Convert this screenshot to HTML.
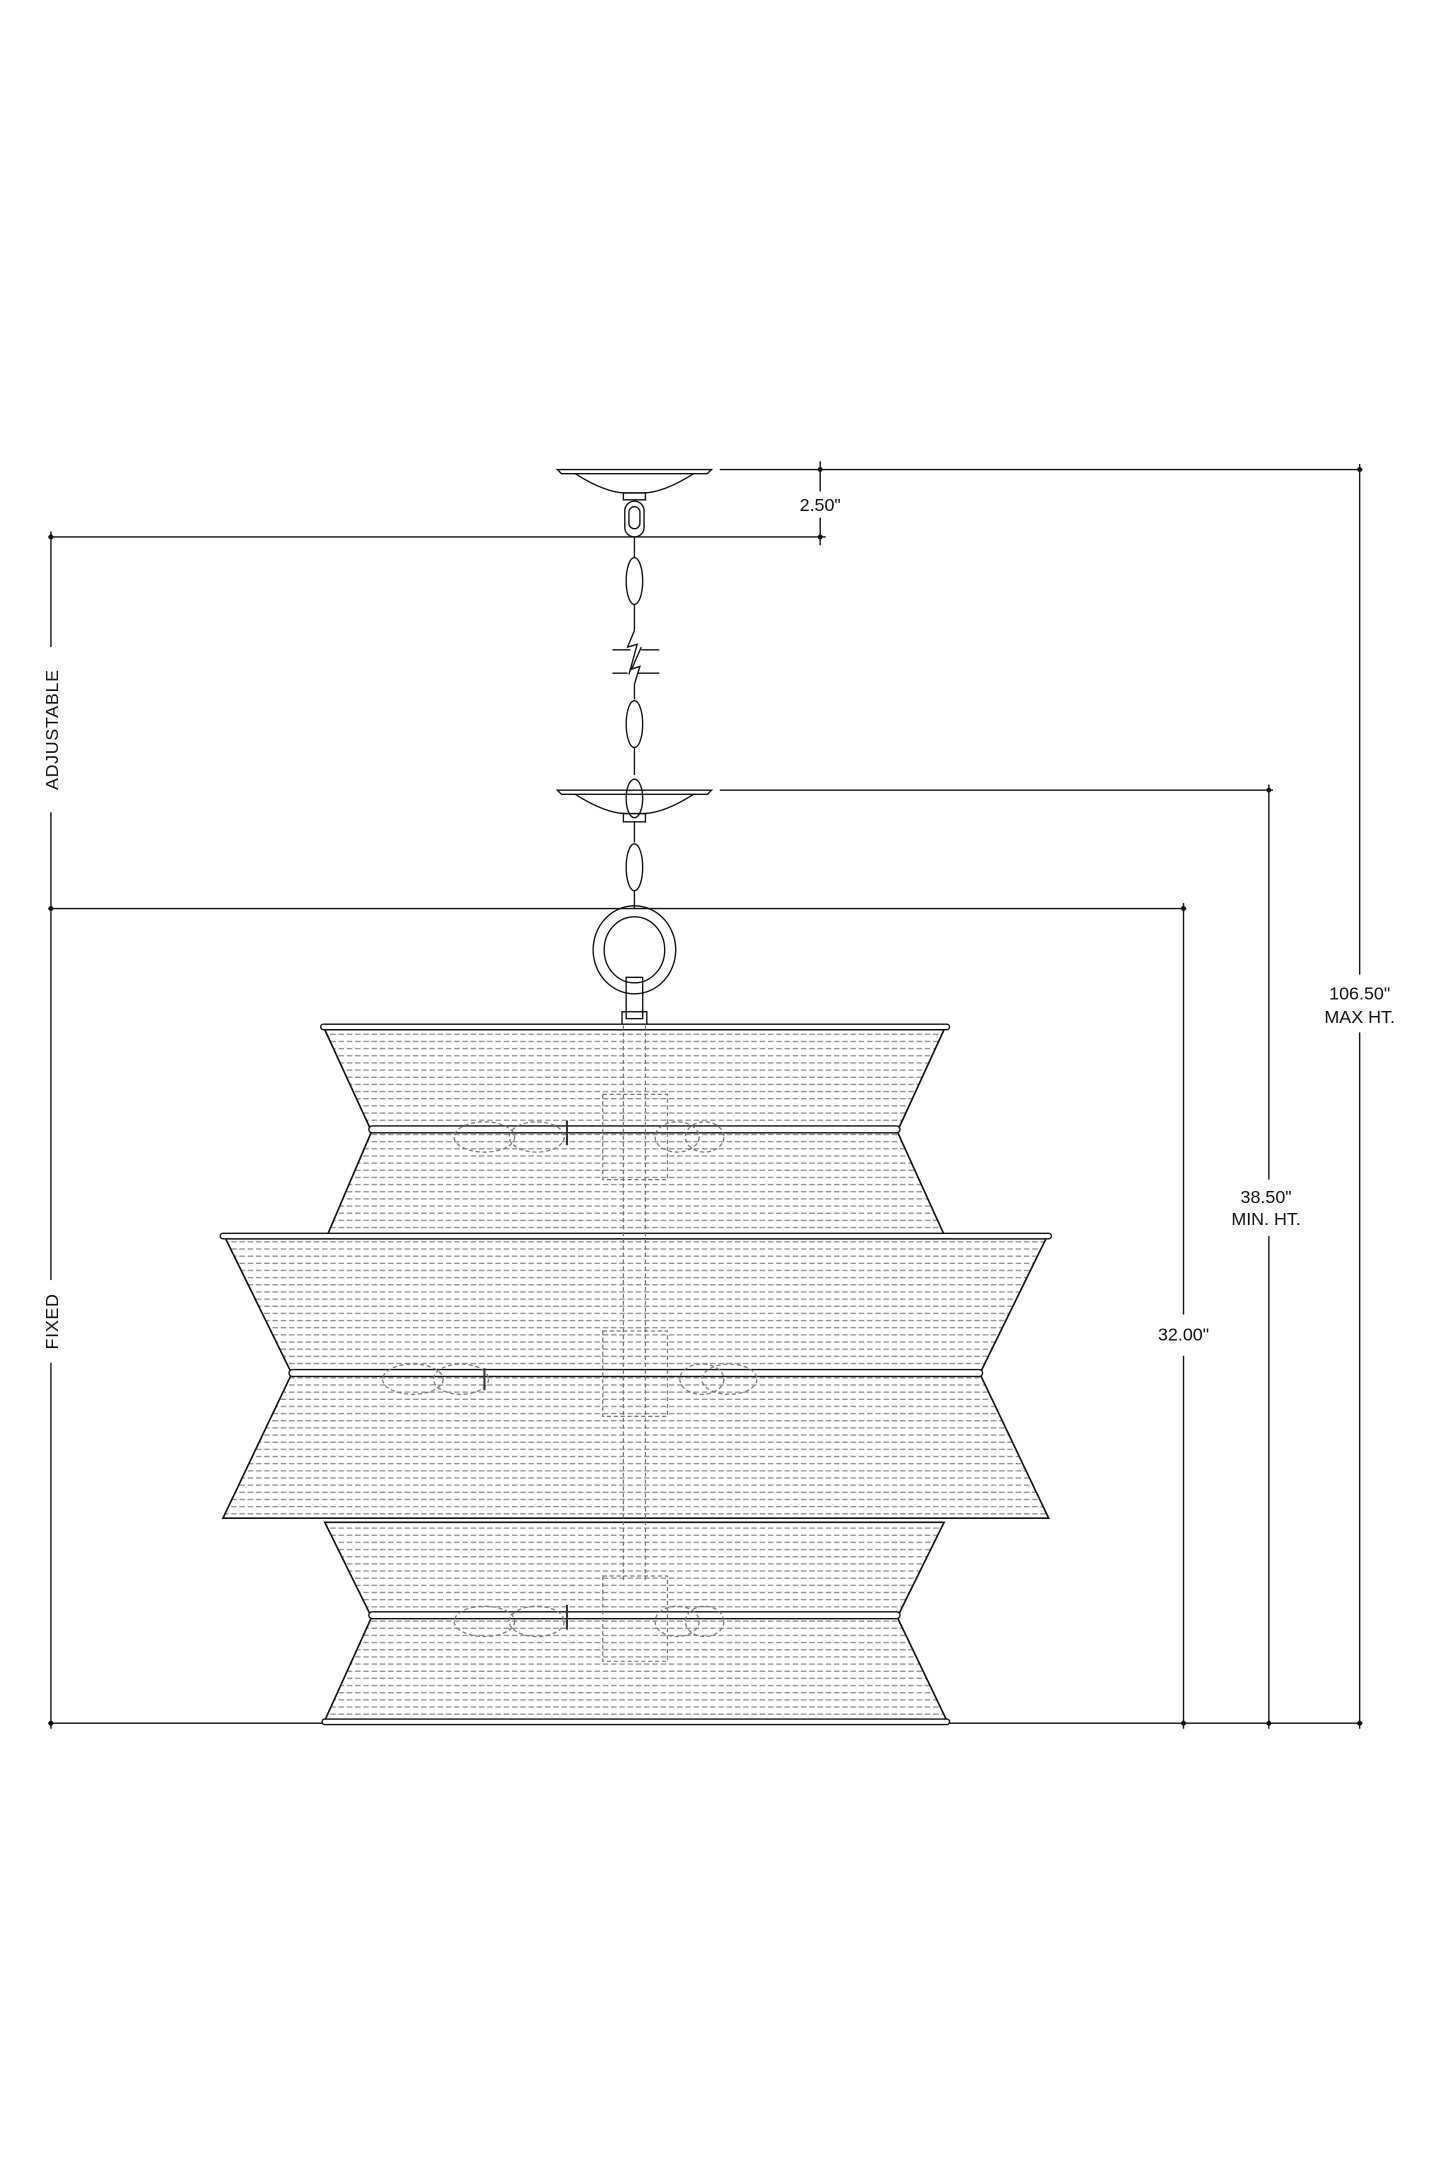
<!DOCTYPE html>
<html><head><meta charset="utf-8"><style>
html,body{margin:0;padding:0;background:#fff;}
svg{display:block;}
text{font-family:"Liberation Sans",sans-serif;fill:#111;}
</style></head><body>
<svg width="1445" height="2168" viewBox="0 0 1050 1575" xmlns="http://www.w3.org/2000/svg">
<defs>
<pattern id="mesh" x="0" y="0" width="6" height="5.2" patternUnits="userSpaceOnUse">
<line x1="0" y1="2.6" x2="4" y2="2.6" stroke="#8a8a8a" stroke-width="0.9"/>
</pattern>
</defs>
<g stroke="#111" fill="none" stroke-width="1">
<!-- dimension lines -->
<line x1="523" y1="341" x2="990" y2="341"/>
<line x1="596" y1="335" x2="596" y2="357"/>
<line x1="596" y1="376" x2="596" y2="396"/>
<line x1="35" y1="390" x2="600" y2="390"/>
<line x1="37" y1="386" x2="37" y2="470"/>
<line x1="37" y1="590" x2="37" y2="930"/>
<line x1="37" y1="990" x2="37" y2="1256"/>
<line x1="523" y1="574" x2="925" y2="574"/>
<line x1="922" y1="570" x2="922" y2="857"/>
<line x1="922" y1="898" x2="922" y2="1256"/>
<line x1="35" y1="660" x2="862" y2="660"/>
<line x1="860" y1="656" x2="860" y2="955"/>
<line x1="860" y1="985" x2="860" y2="1256"/>
<line x1="988" y1="337" x2="988" y2="708"/>
<line x1="988" y1="750" x2="988" y2="1256"/>
<line x1="35" y1="1252" x2="234" y2="1252"/>
<line x1="690" y1="1252" x2="990" y2="1252"/>
</g>
<g fill="#111">
<circle cx="596" cy="341" r="1.8"/><circle cx="596" cy="390" r="1.8"/>
<circle cx="988" cy="341" r="1.8"/><circle cx="37" cy="390" r="1.8"/>
<circle cx="922" cy="574" r="1.8"/><circle cx="37" cy="660" r="1.8"/>
<circle cx="860" cy="660" r="1.8"/><circle cx="37" cy="1252" r="1.8"/>
<circle cx="860" cy="1252" r="1.8"/><circle cx="922" cy="1252" r="1.8"/><circle cx="988" cy="1252" r="1.8"/>
</g>
<text x="596" y="371" font-size="13" text-anchor="middle">2.50"</text>
<text x="988" y="726" font-size="13" text-anchor="middle">106.50"</text>
<text x="988" y="743" font-size="13" text-anchor="middle">MAX HT.</text>
<text x="920" y="874" font-size="13" text-anchor="middle">38.50"</text>
<text x="920" y="890" font-size="13" text-anchor="middle">MIN. HT.</text>
<text x="860" y="974" font-size="13" text-anchor="middle">32.00"</text>
<text transform="translate(42,530) rotate(-90)" font-size="13" text-anchor="middle" letter-spacing="0.5">ADJUSTABLE</text>
<text transform="translate(42,960) rotate(-90)" font-size="13" text-anchor="middle" letter-spacing="0.5">FIXED</text>

<!-- canopies -->
<g stroke="#111" fill="none" stroke-width="1">
<path d="M405 341 L517 341 L514 344 L408 344 Z"/>
<path d="M418 344 Q440 358 455 358 L467 358 Q482 358 504 344"/>
<rect x="453" y="358" width="16" height="5"/>
<path d="M405 574 L517 574 L514 577 L408 577 Z"/>
<path d="M418 577 Q440 591 455 591 L467 591 Q482 591 504 577"/>
<rect x="453" y="591" width="16" height="6"/>
<!-- chain -->
<rect x="454" y="364" width="14" height="26" rx="7"/>
<rect x="457" y="368" width="8" height="16" rx="4"/>
<ellipse cx="461" cy="422" rx="6" ry="17"/>
<line x1="461" y1="390" x2="461" y2="405"/>
<line x1="461" y1="439" x2="461" y2="458"/>
<path d="M461 458 L456 470 L463 468 L457 490 M445 472 L458 472 M466 472 L479 472 M445 489 L456 489 M463 489 L479 489 M466 470 L459 486 L465 484 L461 497"/>
<line x1="461" y1="497" x2="461" y2="508"/>
<ellipse cx="461" cy="526" rx="6" ry="17"/>
<line x1="461" y1="543" x2="461" y2="563"/>
<ellipse cx="461" cy="580" rx="6" ry="14"/>
<line x1="461" y1="597" x2="461" y2="612"/>
<ellipse cx="461" cy="630" rx="6" ry="17"/>
<line x1="461" y1="647" x2="461" y2="660"/>
<ellipse cx="461" cy="690" rx="30" ry="32"/>
<ellipse cx="461" cy="690" rx="22" ry="24"/>
<rect x="455" y="710" width="12" height="30"/>
<rect x="452" y="735" width="18" height="10"/>
</g>

<!-- shades -->
<g stroke="#111" stroke-width="1.2" fill="url(#mesh)">
<path d="M236 748 L686 748 L652 822 L686 897 L238 897 L270 822 Z"/>
<path d="M164 900 L760 900 L712 998 L762 1103 L162 1103 L212 998 Z"/>
<path d="M236 1106 L686 1106 L652 1175 L688 1250 L236 1250 L270 1175 Z"/>
</g>
<g stroke="#111" stroke-width="1" fill="#fff">
<rect x="233" y="744" width="457" height="4" rx="2"/>
<rect x="268" y="818" width="386" height="5" rx="2.5"/>
<rect x="160" y="896" width="604" height="4" rx="2"/>
<rect x="210" y="995" width="504" height="5" rx="2.5"/>
<rect x="268" y="1171" width="386" height="5" rx="2.5"/>
<rect x="234" y="1249" width="456" height="4" rx="2"/>
</g>
<!-- inner dashed frame -->
<g stroke="#777" stroke-width="0.9" fill="none" stroke-dasharray="3 2">
<line x1="453" y1="745" x2="453" y2="1150"/>
<line x1="469" y1="745" x2="469" y2="1150"/>
<rect x="438" y="795" width="47" height="62"/>
<rect x="438" y="967" width="47" height="62"/>
<rect x="438" y="1145" width="47" height="62"/>
<ellipse cx="352" cy="826" rx="22" ry="11"/><ellipse cx="390" cy="826" rx="20" ry="11"/>
<ellipse cx="492" cy="826" rx="16" ry="11"/><ellipse cx="512" cy="826" rx="14" ry="11"/>
<ellipse cx="300" cy="1002" rx="22" ry="11"/><ellipse cx="335" cy="1002" rx="20" ry="11"/>
<ellipse cx="510" cy="1002" rx="16" ry="11"/><ellipse cx="530" cy="1002" rx="20" ry="11"/>
<ellipse cx="352" cy="1178" rx="22" ry="11"/><ellipse cx="390" cy="1178" rx="20" ry="11"/>
<ellipse cx="492" cy="1178" rx="16" ry="11"/><ellipse cx="512" cy="1178" rx="14" ry="11"/>
</g>
<g stroke="#333" stroke-width="1.5">
<line x1="412" y1="814" x2="412" y2="832"/>
<line x1="352" y1="994" x2="352" y2="1010"/>
<line x1="412" y1="1166" x2="412" y2="1184"/>
</g>
</svg>
</body></html>
